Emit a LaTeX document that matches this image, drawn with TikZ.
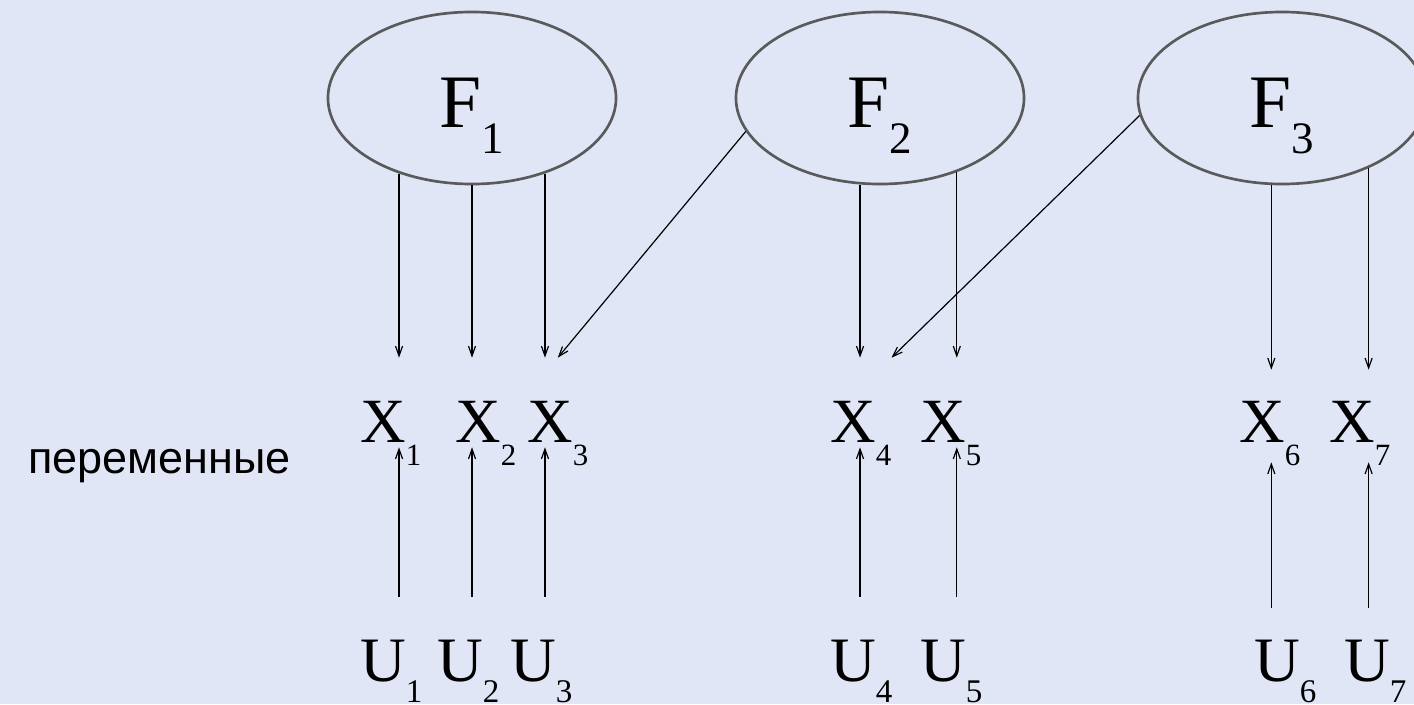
\documentclass[tikz,border=0pt]{standalone}
\usepackage{fontspec}
\setmainfont{Liberation Serif}
\newfontfamily\labelfont{Liberation Sans}
\usetikzlibrary{shapes.geometric,arrows.meta}
\definecolor{slidebg}{RGB}{225,230,247}
\definecolor{rimgray}{RGB}{90,90,90}
\newcommand{\lowidx}[3]{\raisebox{-#2}{\fontsize{#1}{#1}\selectfont #3}}

\begin{document}
\begin{tikzpicture}[x=0.025cm,y=-0.025cm,
    factor/.style={ellipse,draw=rimgray,line width=1.9pt,minimum width=7.2cm,
      minimum height=4.3cm,inner sep=0pt,text height=1.5cm,text depth=0.05cm,
      font=\fontsize{53.7}{60}\selectfont},
    xvar/.style={anchor=base west,inner sep=0pt,text height=2.1cm,text depth=0.125cm,
      font=\fontsize{44.8}{50}\selectfont},
    uvar/.style={anchor=base west,inner sep=0pt,text height=2.1cm,text depth=0pt,
      font=\fontsize{45}{50}\selectfont},
    load/.style={-{Straight Barb[length=7pt,width=5pt]},line width=0.85pt}]
\useasboundingbox (0,0) rectangle (1414,704);
\fill[slidebg] (0,0) rectangle (1414,704);

\node[factor] (F1) at (472,98) {F\lowidx{32pt}{19pt}{1}};
\node[factor] (F2) at (880,98) {F\lowidx{32pt}{19pt}{2}};
\node[factor] (F3) at (1282,98) {F\lowidx{32pt}{19pt}{3}};

\node[xvar] (X1) at (360,442) {X\lowidx{22pt}{17pt}{1}};
\node[xvar] (X2) at (455,442) {X\lowidx{22pt}{17pt}{2}};
\node[xvar] (X3) at (527,442) {X\lowidx{22pt}{17pt}{3}};
\node[xvar] (X4) at (830,442) {X\lowidx{22pt}{17pt}{4}};
\node[xvar] (X5) at (920,442) {X\lowidx{22pt}{17pt}{5}};
\node[xvar,text height=1.8cm,text depth=0.5cm] (X6) at (1239,442) {X\lowidx{22pt}{17pt}{6}};
\node[xvar,text height=1.8cm,text depth=0.5cm] (X7) at (1329,442) {X\lowidx{22pt}{17pt}{7}};

\node[uvar] (U1) at (360,681) {U\lowidx{23.5pt}{15pt}{1}};
\node[uvar] (U2) at (437,681) {U\lowidx{23.5pt}{15pt}{2}};
\node[uvar] (U3) at (510,681) {U\lowidx{23.5pt}{15pt}{3}};
\node[uvar] (U4) at (830,681) {U\lowidx{23.5pt}{15pt}{4}};
\node[uvar] (U5) at (920,681) {U\lowidx{23.5pt}{15pt}{5}};
\node[uvar,text height=1.825cm] (U6) at (1254,681) {U\lowidx{23.5pt}{15pt}{6}};
\node[uvar,text height=1.825cm] (U7) at (1344,681) {U\lowidx{23.5pt}{15pt}{7}};

\node[anchor=base east,inner sep=0pt,font=\labelfont\fontsize{32}{36}\selectfont] (vars) at (291,473) {переменные};

\draw[load] (F1.226) -- (F1.226 |- X1.north);
\draw[load] (F1.south) -- (F1.south |- X2.north);
\draw[load] (F1.314) -- (F1.314 |- X3.north);
\draw[load] (F2.194) -- (X3.north);
\draw[load] (F2.257) -- (F2.257 |- X4.north);
\draw[load] (F2.316) -- (F2.316 |- X5.north);
\draw[load] (F3.187) -- (X4.north east);
\draw[load] (F3.263) -- (F3.263 |- X6.north);
\draw[load] (F3.321) -- (F3.321 |- X7.north);

\draw[load] (F1.226 |- U1.north) -- (F1.226 |- X1.south);
\draw[load] (F1.south |- U2.north) -- (F1.south |- X2.south);
\draw[load] (F1.314 |- U3.north) -- (F1.314 |- X3.south);
\draw[load] (F2.257 |- U4.north) -- (F2.257 |- X4.south);
\draw[load] (F2.316 |- U5.north) -- (F2.316 |- X5.south);
\draw[load] (F3.263 |- U6.north) -- (F3.263 |- X6.south);
\draw[load] (F3.321 |- U7.north) -- (F3.321 |- X7.south);
\end{tikzpicture}
\end{document}
